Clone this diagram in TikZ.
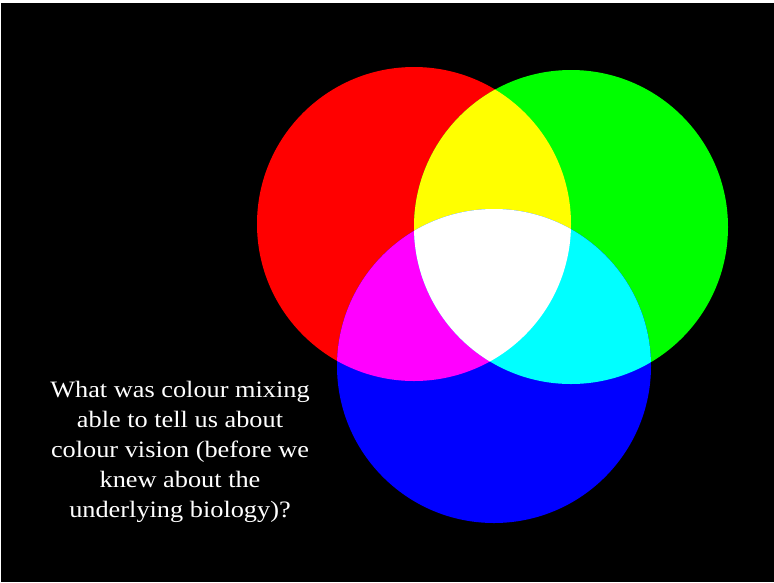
\documentclass[tikz,border=0pt]{standalone}
\usepackage{fontspec}
\setmainfont{Liberation Serif}
\newfontfamily\widefont[FakeStretch=1.12]{Liberation Serif}
\definecolor{rR}{RGB}{255,0,0}
\definecolor{gG}{RGB}{0,255,0}
\definecolor{bB}{RGB}{0,0,255}
\definecolor{yY}{RGB}{255,255,0}
\definecolor{mM}{RGB}{255,0,255}
\definecolor{cC}{RGB}{0,255,255}
\begin{document}
\begin{tikzpicture}[x=1pt,y=-1pt,
  linetext/.style={text=white,anchor=base,inner sep=0pt,font=\widefont\fontsize{23.5}{30}\selectfont}]
\useasboundingbox (0,0) rectangle (774,582);
\fill[white] (0,0) rectangle (774,582);
\fill[black] (1,3) rectangle (774,582);
\def\R{(414,224) circle[radius=157]}
\def\G{(571,227) circle[radius=157]}
\def\B{(494,366) circle[radius=157]}
\fill[rR] \R;
\fill[gG] \G;
\fill[bB] \B;
\begin{scope}\clip \R; \fill[yY] \G; \end{scope}
\begin{scope}\clip \R; \fill[mM] \B; \end{scope}
\begin{scope}\clip \G; \fill[cC] \B; \end{scope}
\begin{scope}\clip \R; \clip \G; \fill[white] \B; \end{scope}
\node[linetext] (l1) at (180,397) {What was colour mixing};
\node[linetext] (l2) at (180,427) {able to tell us about};
\node[linetext] (l3) at (180,457) {colour vision (before we};
\node[linetext] (l4) at (180,487) {knew about the};
\node[linetext] (l5) at (180,517) {underlying biology)?};
\end{tikzpicture}
\end{document}
